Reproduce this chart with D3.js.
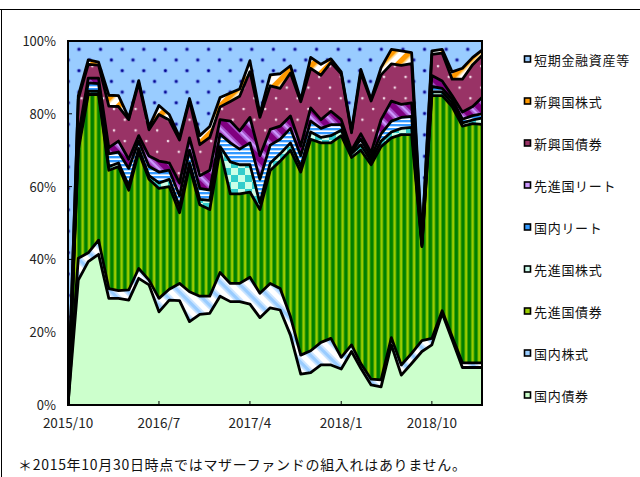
<!DOCTYPE html>
<html>
<head>
<meta charset="utf-8">
<script src="https://cdn.jsdelivr.net/npm/d3@7"></script>
<style>
  body { margin: 0; background: #fff; }
  svg { display: block; font-family: "Noto Sans CJK JP", "Noto Sans", sans-serif; }
</style>
</head>
<body>
<svg id="chart" width="640" height="477"></svg>
<script>
// months 2015/10 .. 2019/3
const months = d3.timeMonth.range(new Date(2015, 9, 1), new Date(2019, 3, 1));
const tickMonths = [new Date(2015, 9, 1), new Date(2016, 6, 1), new Date(2017, 3, 1), new Date(2018, 0, 1), new Date(2018, 9, 1)];
const tickLabels = ["2015/10", "2016/7", "2017/4", "2018/1", "2018/10"];
const yTicks = [0, 20, 40, 60, 80, 100];

// values in %
const kokunaiSaiken = [0,34.3,39.4,41.4,29.3,29.3,28.8,34.8,33,25.6,28.8,28.7,22.9,24.9,25.2,29.9,28.4,28.4,27.7,24,26.7,26.1,19.2,8.5,8.9,11,11,9.9,14.7,10.1,5.5,5,16.5,8.2,11.4,14.7,16.5,25.2,17.9,10.3,10.3,10.3];
const kokunaiKabu = [0,6,2.4,3.9,2.7,2.1,2.8,2.7,1.3,3.7,3,4.7,8.2,5,4.7,6.5,5,5,7.4,6.7,6.7,5.9,5.1,5.2,6,6.2,7.3,3.2,1.8,1.3,1.6,1.9,2,2.8,2.8,3,1.8,0.7,0.9,1.3,1.3,1.3];
const senshinSaiken = [0,29.7,43.5,40,32.5,34.1,27.4,32,27.7,30.2,28.2,19.4,34.4,25.1,23.8,33.6,24.6,24.6,23.4,23,31,35,45.7,50.3,58.1,54.8,53.7,60.9,51.5,58.6,58.9,64.1,54.9,63.3,60.1,25.8,66.7,59.1,63.2,65,65.7,65.5];
const senshinKabu = [0,1,0.9,0.9,1,1,1.2,1,1,1.5,2,1.7,1,1.5,2.5,1,8.8,8,7.5,1.8,2,2,2,1.5,2,1.5,2,1.5,1,1.5,1,1.5,1.6,1.7,2,0.3,1,1,1,0.9,1,1.7];
const kokunaiReit = [0,1.5,2.3,2.1,3.5,3,4.8,2,2.5,3,2.5,3,3.5,3,2.8,3.4,5.2,4.3,6,6.5,5,4,4,3,3,2.5,3,1.5,0.5,1.5,1,2,3,3,3,0.3,1.5,1,1,1,1.2,1.2];
const senshinReit = [0,1.5,1.3,1.5,1.7,3,2.5,1.5,2.9,3,2,3.5,3.4,3.5,5.5,4,6,5,7,6.5,4.3,3.6,3.4,2.6,3.6,2.4,3.7,1.4,0.5,1.5,1.3,3.9,5.5,3.6,3.7,0.3,3,2,1,2,2.5,4.5];
const shinkoSaiken = [0,10,3.8,3.6,11.4,9.5,10.9,14.5,7.2,12.8,11.8,11.8,10.3,8.5,9,3.5,5.4,9.5,12.6,10.5,12,10.4,11.8,12.2,10.9,12.2,13.4,12.6,4.8,16.7,14.2,12.3,10.2,10.7,10.8,0.6,5.8,7.7,4.5,9,11.5,11.5];
const shinkoKabu = [0,0.9,1.2,0.8,3,3,0.5,0.6,0.8,2.5,1.5,0.8,0.5,2.5,3,2.6,2.3,2,3,1,3,4,2,0.5,3,3,1,0.5,0.5,1,0.5,2,4,4,3,0.3,1,1,2,3,2,1.5];
const tanki = [100,15.1,5.2,5.8,14.9,15,21.1,10.9,23.6,17.7,20.2,26.4,15.8,26,23.5,15.5,14.3,13.2,5.4,20,9.3,9,6.8,16.2,4.5,6.4,4.9,8.5,24.7,7.8,16,7.3,2.3,2.7,3.2,54.7,2.7,2.3,8.5,7.5,4.5,2.5];

const series = [
  { key: "kokunaiSaiken", name: "国内債券", values: kokunaiSaiken, fill: "#ccffcc", mark: "#ccffcc" },
  { key: "kokunaiKabu", name: "国内株式", values: kokunaiKabu, fill: "url(#p-dstock)", mark: "#99ccff" },
  { key: "senshinSaiken", name: "先進国債券", values: senshinSaiken, fill: "url(#p-sbond)", mark: "#99cc00" },
  { key: "senshinKabu", name: "先進国株式", values: senshinKabu, fill: "url(#p-sstock)", mark: "#ccffee" },
  { key: "kokunaiReit", name: "国内リート", values: kokunaiReit, fill: "url(#p-jreit)", mark: "#3399ff" },
  { key: "senshinReit", name: "先進国リート", values: senshinReit, fill: "url(#p-sreit)", mark: "#cc99ff" },
  { key: "shinkoSaiken", name: "新興国債券", values: shinkoSaiken, fill: "url(#p-ebond)", mark: "#993366" },
  { key: "shinkoKabu", name: "新興国株式", values: shinkoKabu, fill: "url(#p-estock)", mark: "#ff9900" },
  { key: "tanki", name: "短期金融資産等", values: tanki, fill: "url(#p-cash)", mark: "#99ccff" }
];

const table = months.map((m, i) => {
  const row = { date: m };
  series.forEach(s => row[s.key] = s.values[i]);
  return row;
});

const plot = { left: 68, right: 482, top: 41, bottom: 405 };
const svg = d3.select("#chart");

const x = d3.scaleTime().domain(d3.extent(months)).range([plot.left, plot.right]);
const y = d3.scaleLinear().domain([0, 100]).range([plot.bottom, plot.top]);

// patterns
const defs = svg.append("defs");

// 国内株式: white with soft light-blue "\" stripes
const pDs = defs.append("pattern").attr("id", "p-dstock").attr("patternUnits", "userSpaceOnUse")
  .attr("width", 12).attr("height", 12).attr("patternTransform", "rotate(-45)");
pDs.append("rect").attr("width", 12).attr("height", 12).attr("fill", "#fff");
pDs.append("rect").attr("x", 1).attr("width", 1.5).attr("height", 12).attr("fill", "#cce5ff");
pDs.append("rect").attr("x", 2.5).attr("width", 4).attr("height", 12).attr("fill", "#99ccff");
pDs.append("rect").attr("x", 6.5).attr("width", 1.5).attr("height", 12).attr("fill", "#cce5ff");

// 先進国債券: vertical green stripes
const pSb = defs.append("pattern").attr("id", "p-sbond").attr("patternUnits", "userSpaceOnUse")
  .attr("width", 6.5).attr("height", 10);
pSb.append("rect").attr("width", 6.5).attr("height", 10).attr("fill", "#008000");
pSb.append("rect").attr("x", 2.8).attr("width", 0.8).attr("height", 10).attr("fill", "#4da600");
pSb.append("rect").attr("x", 3.6).attr("width", 2.2).attr("height", 10).attr("fill", "#99cc00");
pSb.append("rect").attr("x", 5.8).attr("width", 0.7).attr("height", 10).attr("fill", "#4da600");

// 先進国株式: checks
const pSs = defs.append("pattern").attr("id", "p-sstock").attr("patternUnits", "userSpaceOnUse")
  .attr("width", 14).attr("height", 14);
pSs.append("rect").attr("width", 14).attr("height", 14).attr("fill", "#ccffe8");
pSs.append("rect").attr("width", 7).attr("height", 7).attr("fill", "#33cccc");
pSs.append("rect").attr("x", 7).attr("y", 7).attr("width", 7).attr("height", 7).attr("fill", "#33cccc");

// 国内リート: horizontal blue lines
const pJr = defs.append("pattern").attr("id", "p-jreit").attr("patternUnits", "userSpaceOnUse")
  .attr("width", 10).attr("height", 4);
pJr.append("rect").attr("width", 10).attr("height", 4).attr("fill", "#fff");
pJr.append("rect").attr("width", 10).attr("height", 2).attr("fill", "#3399ff");
pJr.append("rect").attr("y", 2).attr("width", 10).attr("height", 0.7).attr("fill", "#99ccff");

// 先進国リート: purple with lavender "\" stripes
const pSr = defs.append("pattern").attr("id", "p-sreit").attr("patternUnits", "userSpaceOnUse")
  .attr("width", 12).attr("height", 12).attr("patternTransform", "rotate(-45)");
pSr.append("rect").attr("width", 12).attr("height", 12).attr("fill", "#800080");
pSr.append("rect").attr("x", 2).attr("width", 1.5).attr("height", 12).attr("fill", "#a64dc9");
pSr.append("rect").attr("x", 3.5).attr("width", 3).attr("height", 12).attr("fill", "#cc99ff");
pSr.append("rect").attr("x", 6.5).attr("width", 1.5).attr("height", 12).attr("fill", "#a64dc9");

// 新興国債券: maroon with pale dots
const pEb = defs.append("pattern").attr("id", "p-ebond").attr("patternUnits", "userSpaceOnUse")
  .attr("width", 21.6).attr("height", 21.4);
pEb.append("rect").attr("width", 21.6).attr("height", 21.4).attr("fill", "#993366");
pEb.append("circle").attr("cx", 6).attr("cy", 2).attr("r", 1.3).attr("fill", "#f2d9e6");
pEb.append("circle").attr("cx", 16.8).attr("cy", 12.7).attr("r", 1.3).attr("fill", "#f2d9e6");

// 新興国株式: orange and white
const pEs = defs.append("pattern").attr("id", "p-estock").attr("patternUnits", "userSpaceOnUse")
  .attr("width", 12).attr("height", 12).attr("patternTransform", "rotate(45)");
pEs.append("rect").attr("width", 12).attr("height", 12).attr("fill", "#fff");
pEs.append("rect").attr("width", 5).attr("height", 12).attr("fill", "#ff9900");
pEs.append("rect").attr("x", 5).attr("width", 1.5).attr("height", 12).attr("fill", "#ffcc66");

// 短期金融資産等: light blue with navy dots
const pCa = defs.append("pattern").attr("id", "p-cash").attr("patternUnits", "userSpaceOnUse")
  .attr("width", 21.6).attr("height", 21.4);
pCa.append("rect").attr("width", 21.6).attr("height", 21.4).attr("fill", "#99ccff");
pCa.append("circle").attr("cx", 14.2).attr("cy", 6.5).attr("r", 2.2).attr("fill", "#6f8fe6");
pCa.append("circle").attr("cx", 14.2).attr("cy", 6.5).attr("r", 1.3).attr("fill", "#000090");
pCa.append("circle").attr("cx", 3.4).attr("cy", 17.2).attr("r", 2.2).attr("fill", "#6f8fe6");
pCa.append("circle").attr("cx", 3.4).attr("cy", 17.2).attr("r", 1.3).attr("fill", "#000090");

defs.append("clipPath").attr("id", "plotClip")
  .append("rect").attr("x", plot.left).attr("y", plot.top)
  .attr("width", plot.right - plot.left).attr("height", plot.bottom - plot.top);

// outer frame
svg.append("line").attr("x1", 0).attr("x2", 640).attr("y1", 9.5).attr("y2", 9.5)
  .attr("stroke", "#000").attr("stroke-width", 1);
svg.append("line").attr("x1", 1.5).attr("x2", 1.5).attr("y1", 9.5).attr("y2", 477)
  .attr("stroke", "#000").attr("stroke-width", 1);

const stacked = d3.stack().keys(series.map(s => s.key))(table);

const area = d3.area()
  .x(d => x(d.data.date))
  .y0(d => y(d[0]))
  .y1(d => y(d[1]));

const line = d3.line()
  .x(d => x(d.data.date))
  .y(d => y(d[1]));

const g = svg.append("g").attr("clip-path", "url(#plotClip)");

g.selectAll("path.area")
  .data(stacked)
  .join("path")
  .attr("class", "area")
  .attr("fill", (d, i) => series[i].fill)
  .attr("d", area);

g.selectAll("path.edge")
  .data(stacked.slice(0, -1))
  .join("path")
  .attr("class", "edge")
  .attr("fill", "none")
  .attr("stroke", "#000")
  .attr("stroke-width", 2.8)
  .attr("stroke-linejoin", "round")
  .attr("d", line);

// plot border
svg.append("rect")
  .attr("x", plot.left).attr("y", plot.top)
  .attr("width", plot.right - plot.left).attr("height", plot.bottom - plot.top)
  .attr("fill", "none").attr("stroke", "#000").attr("stroke-width", 2);

// y axis
svg.append("g").selectAll("line")
  .data(yTicks)
  .join("line")
  .attr("x1", plot.left).attr("x2", plot.left + 4)
  .attr("y1", d => y(d)).attr("y2", d => y(d))
  .attr("stroke", "#000");

svg.append("g").selectAll("text")
  .data(yTicks)
  .join("text")
  .attr("x", 56)
  .attr("y", d => y(d) - 0.5)
  .attr("text-anchor", "end")
  .attr("dominant-baseline", "central")
  .attr("font-size", 13)
  .attr("fill", "#222")
  .text(d => d + "%");

// x axis
svg.append("g").selectAll("line")
  .data(tickMonths)
  .join("line")
  .attr("x1", d => x(d)).attr("x2", d => x(d))
  .attr("y1", plot.bottom).attr("y2", plot.bottom - 4)
  .attr("stroke", "#000");

svg.append("g").selectAll("text")
  .data(tickMonths)
  .join("text")
  .attr("x", d => x(d))
  .attr("y", 421.5)
  .attr("text-anchor", "middle")
  .attr("dominant-baseline", "central")
  .attr("font-size", 13.5)
  .attr("fill", "#222")
  .text((d, i) => tickLabels[i]);

// legend
const legend = svg.append("g").selectAll("g")
  .data(series.slice().reverse())
  .join("g")
  .attr("transform", (d, i) => `translate(524,${59 + i * 42})`);

legend.append("rect")
  .attr("x", 0.5).attr("y", -3)
  .attr("width", 6).attr("height", 6)
  .attr("fill", d => d.mark)
  .attr("stroke", "#000").attr("stroke-width", 1.6);

legend.append("text")
  .attr("x", 10)
  .attr("y", 0)
  .attr("dominant-baseline", "central")
  .attr("font-size", 13)
  .attr("letter-spacing", 0.7)
  .attr("fill", "#111")
  .text(d => d.name);

// note
svg.append("text")
  .attr("x", 18)
  .attr("y", 464)
  .attr("dominant-baseline", "central")
  .attr("font-size", 14)
  .attr("textLength", 448)
  .attr("lengthAdjust", "spacing")
  .attr("fill", "#111")
  .text("＊2015年10月30日時点ではマザーファンドの組入れはありません。");
</script>
</body>
</html>
